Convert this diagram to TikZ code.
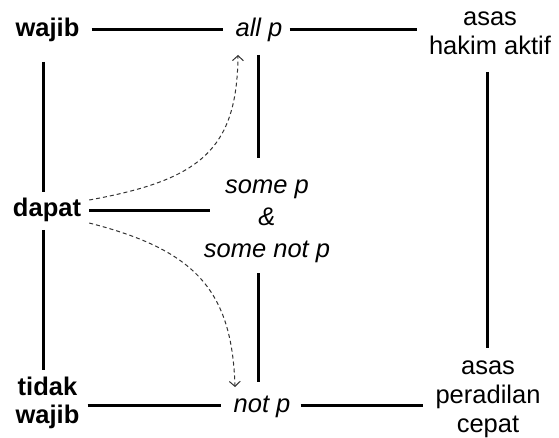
\documentclass[tikz,border=0pt]{standalone}
\usepackage{fontspec}
\setmainfont{Liberation Sans}
\usetikzlibrary{arrows.meta,calc}
\begin{document}
\begin{tikzpicture}[x=1pt,y=1pt,
  lbl/.style={inner xsep=12pt, inner ysep=0pt, font=\fontsize{25.5}{29}\selectfont, align=center, anchor=base},
  bld/.style={lbl, font=\fontsize{25.5}{28}\selectfont\bfseries},
  itl/.style={lbl, font=\fontsize{25.5}{32}\selectfont\itshape},
  bar/.style={line width=3pt},
  dsh/.style={line width=1pt, dash pattern=on 4pt off 3pt, draw=black!80, -{Straight Barb[length=5pt,width=11pt,line width=1pt]}},
]
\useasboundingbox (0,0) rectangle (559,-438);
% nodes (base = baseline of the last line)
\node[bld] (wajib) at (47.5,-37) {wajib};
\node[itl] (allp) at (259,-37) {all p};
\node[lbl] (asas1) at (490,-55) {asas\\hakim aktif};
\node[bld] (dapat) at (47,-217) {dapat};
\node[itl] (somep) at (267,-258) {some p\\\&\\some not p};
\node[bld] (tidak) at (47.5,-423) {tidak\\wajib};
\node[itl] (notp) at (262,-412) {not p};
\node[lbl] (asas2) at (488,-432) {asas\\peradilan\\cepat};
% solid connectors
\draw[bar] ($(wajib.base east)+(0,7)$) -- ($(wajib.base east -| allp.west)+(0,7)$);
\draw[bar] ($(allp.base east)+(-5,7)$) -- ($(allp.base east -| asas1.west)+(0,7)$);
\draw[bar] ($(wajib.base)+(-4.5,-25)$) -- ($(dapat.base)+(-4,25)$);
\draw[bar] ($(dapat.base)+(-4,-13)$) -- ($(tidak.base)+(-4.5,53)$);
\draw[bar] ($(dapat.base east)+(-4,6)$) -- ($(dapat.base east -| somep.west)+(18,6)$);
\draw[bar] ($(allp.base)+(-1,-18)$) -- ($(allp.base |- somep.base)+(-1,100)$);
\draw[bar] ($(allp.base |- somep.base)+(-1,-15)$) -- ($(notp.base)+(-4,30)$);
\draw[bar] ($(tidak.east |- notp.base)+(-4,7)$) -- ($(notp.base west)+(0,7)$);
\draw[bar] ($(notp.base east)+(-2,7)$) -- ($(notp.base east -| asas2.west)+(0,7)$);
\draw[bar] ($(asas1.base)+(-3,-17)$) -- ($(asas2.base)+(-1,84)$);
% dashed curved arrows
\draw[dsh] ($(dapat.base east)+(-4,17)$) .. controls (200,-180) and (237,-150) .. ($(allp.base)+(-21,-18)$);
\draw[dsh] ($(dapat.base east)+(-4,-6)$) .. controls (195,-250) and (232,-290) .. ($(notp.base)+(-27,25)$);
\end{tikzpicture}
\end{document}
